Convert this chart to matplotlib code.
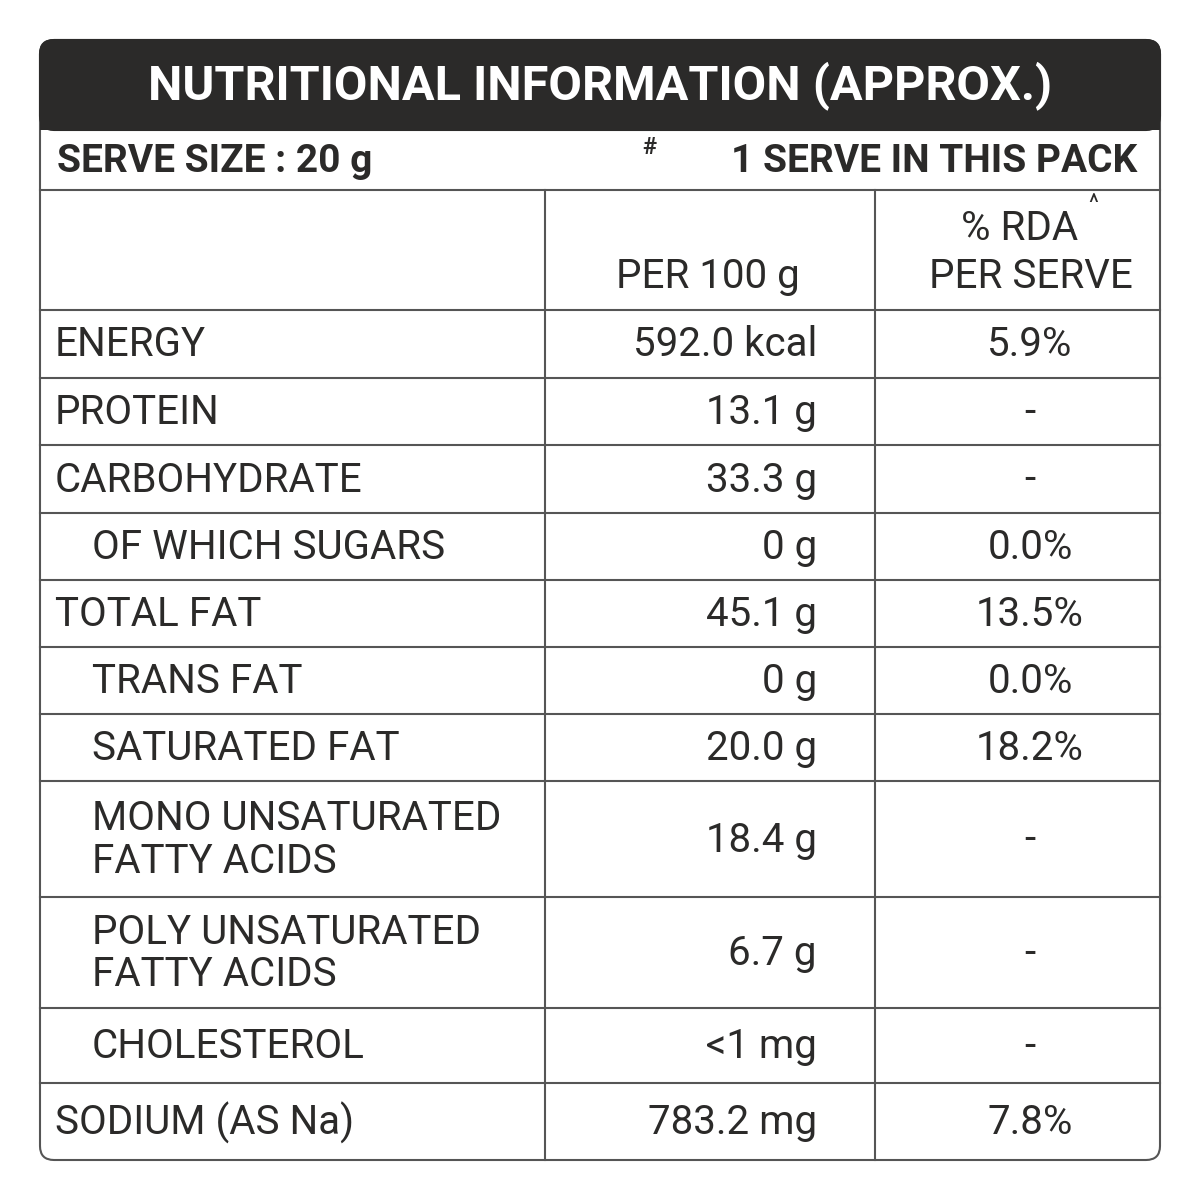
import matplotlib.pyplot as plt
from matplotlib.patches import FancyBboxPatch

plt.rcParams['font.family'] = ['Roboto', 'DejaVu Sans']

title = "NUTRITIONAL INFORMATION (APPROX.)"
serve_left = "SERVE SIZE : 20 g"
serve_right = "1 SERVE IN THIS PACK"
nutrients = ["ENERGY", "PROTEIN", "CARBOHYDRATE", "OF WHICH SUGARS", "TOTAL FAT",
             "TRANS FAT", "SATURATED FAT", "MONO UNSATURATED\nFATTY ACIDS",
             "POLY UNSATURATED\nFATTY ACIDS", "CHOLESTEROL", "SODIUM (AS Na)"]
indented = [False, False, False, True, False, True, True, True, True, True, False]
per100 = ["592.0 kcal", "13.1 g", "33.3 g", "0 g", "45.1 g", "0 g", "20.0 g",
          "18.4 g", "6.7 g", "<1 mg", "783.2 mg"]
rda = ["5.9%", "-", "-", "0.0%", "13.5%", "0.0%", "18.2%", "-", "-", "-", "7.8%"]

row_edges = [310, 378, 445, 513, 580, 647, 714, 781, 897, 1008, 1083, 1160]
dark = '#2b2a29'
line = '#555555'

fig = plt.figure(figsize=(12, 12), dpi=100)
ax = fig.add_axes([0, 0, 1, 1])
ax.set_xlim(0, 1200)
ax.set_ylim(1200, 0)
ax.axis('off')

# outer box and title band
ax.add_patch(FancyBboxPatch((40, 40), 1120, 1120, boxstyle="round,pad=0,rounding_size=14",
                            fc='white', ec=line, lw=1.5))
ax.add_patch(FancyBboxPatch((40, 40), 1120, 90, boxstyle="round,pad=0,rounding_size=14",
                            fc=dark, ec=dark, lw=1.5))
ax.add_patch(plt.Rectangle((40, 100), 1120, 30, fc=dark, ec='none'))
ax.text(600, 86, title, color='white', fontsize=35, fontweight='bold', ha='center', va='center')

ax.text(57, 162, serve_left, color=dark, fontsize=28, fontweight='bold', ha='left', va='center')
ax.text(1137, 162, serve_right, color=dark, fontsize=28, fontweight='bold', ha='right', va='center')
ax.text(642, 148, "#", color=dark, fontsize=17, fontweight='bold', ha='left', va='center')

# grid lines
ax.plot([40, 1160], [190, 190], color=line, lw=1.5)
for y in row_edges[:-1]:
    ax.plot([40, 1160], [y, y], color=line, lw=1.5)
for x in [545, 875]:
    ax.plot([x, x], [190, 1160], color=line, lw=1.5)

# column header
ax.text(708, 277, "PER 100 g", color=dark, fontsize=29, ha='center', va='center')
ax.text(1020, 229, "% RDA", color=dark, fontsize=29, ha='center', va='center')
ax.text(1093, 204, "^", color=dark, fontsize=17, ha='center', va='center')
ax.text(1031, 277, "PER SERVE", color=dark, fontsize=29, ha='center', va='center')

for i, name in enumerate(nutrients):
    yc = (row_edges[i] + row_edges[i + 1]) / 2 + 1
    x0 = 92 if indented[i] else 55
    ax.text(x0, yc, name, color=dark, fontsize=29, ha='left', va='center', linespacing=1.1)
    ax.text(817, yc, per100[i], color=dark, fontsize=29, ha='right', va='center')
    ax.text(1030, yc, rda[i], color=dark, fontsize=29, ha='center', va='center')

fig.savefig('out.png', dpi=100, facecolor='white')
